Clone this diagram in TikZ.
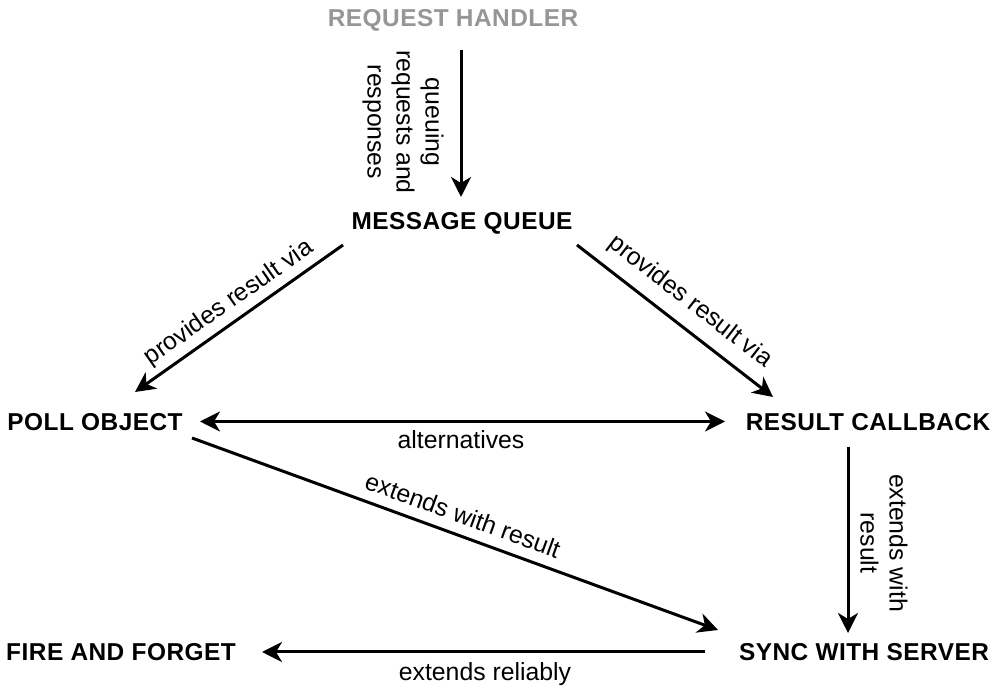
\documentclass[tikz,border=0pt]{standalone}
\usepackage{fontspec}
\setmainfont{Liberation Sans}
\newfontfamily\boxfont[LetterSpace=2.0]{Liberation Sans}
\usetikzlibrary{arrows.meta,calc}
\definecolor{rhgray}{RGB}{150,150,150}
\begin{document}
\begin{tikzpicture}[x=1pt,y=1pt,
  box/.style={inner sep=0pt,text height=17pt,text depth=0pt,
    font=\boxfont\fontsize{24.4}{28}\selectfont\bfseries},
  lbl/.style={inner sep=0pt,align=center,font=\fontsize{24.8}{29}\selectfont},
  arr/.style={line width=3pt,-{Stealth[length=20pt,width=20pt,inset=6pt]}},
  darr/.style={line width=3pt,{Stealth[length=20pt,width=20pt,inset=6pt]}-{Stealth[length=20pt,width=20pt,inset=6pt]}}]
\fill[white] (0,0) rectangle (995,692);
\useasboundingbox (0,0) rectangle (995,692);

\node[box,text=rhgray] (rh) at (453,673.5) {REQUEST HANDLER};
\node[box] (mq) at (462,470.5) {MESSAGE QUEUE};
\node[box] (po) at (95,270) {POLL OBJECT};
\node[box] (rc) at (868,270) {RESULT CALLBACK};
\node[box] (faf) at (121,39.5) {FIRE AND FORGET};
\node[box] (sws) at (864,39.5) {SYNC WITH SERVER};

\draw[arr] ([shift={(8,-31.5)}]rh.center) -- ([shift={(-1,24.5)}]mq.center);
\draw[arr] ([shift={(-119,-23.5)}]mq.center) -- ([shift={(40,30)}]po.center);
\draw[arr] ([shift={(115,-23.5)}]mq.center) -- ([shift={(-95,25)}]rc.center);
\draw[darr] ([shift={(105,0.5)}]po.center) -- ([shift={(-143,0.5)}]rc.center);
\draw[arr] ([shift={(97,-16)}]po.center) -- ([shift={(-146,22.5)}]sws.center);
\draw[arr] ([shift={(-20,-25)}]rc.center) -- ([shift={(-16,19.5)}]sws.center);
\draw[arr] ([shift={(-159,0.5)}]sws.center) -- ([shift={(141,0.5)}]faf.center);

\node[lbl,rotate=-90] (lq) at (403,570) {queuing\\requests and\\responses};
\node[lbl,rotate=35] (lpo) at (229,389) {provides result via};
\node[lbl,rotate=-37.8] (lrc) at (690,390) {provides result via};
\node[lbl,anchor=base] (lalt) at (461,243) {alternatives};
\node[lbl,rotate=-20] (lext) at (463,177) {extends with result};
\node[lbl,rotate=-90] (lrcs) at (884,149) {extends with\\result};
\node[lbl,anchor=base] (lrel) at (485,11) {extends reliably};
\end{tikzpicture}
\end{document}
